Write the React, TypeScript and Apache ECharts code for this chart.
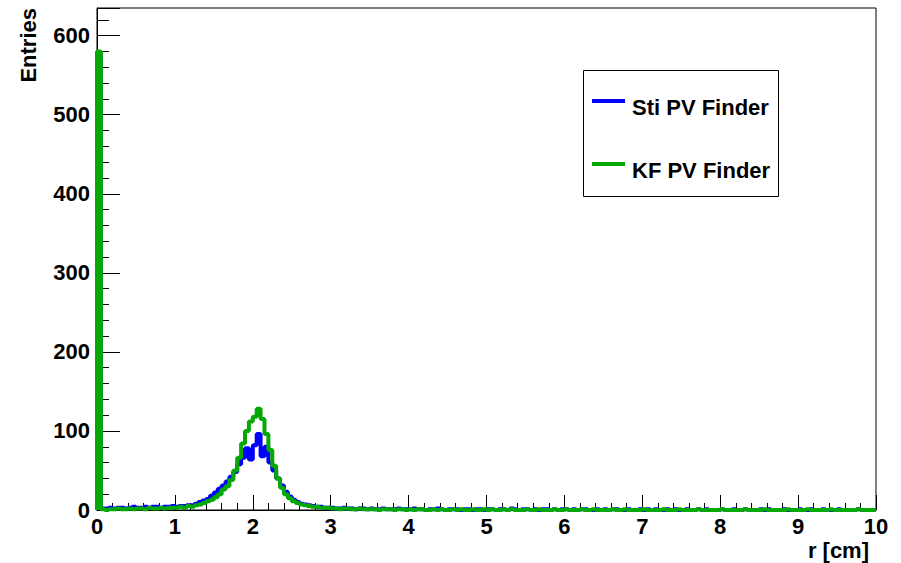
import React, { useEffect, useRef } from "react";
import * as echarts from "echarts";

// Histogram range (r in cm) and tick values
const X_MIN = 0;
const X_MAX = 10;
const Y_MAX = 635;
const X_TICK_STEP = 1;
const Y_TICK_STEP = 100;

const SERIES_NAMES = ["Sti PV Finder", "KF PV Finder"];

// Bin contents, 200 bins of 0.05 cm between 0 and 10 cm
const stiCounts = [
  575,
  2, 2, 3, 2, 3, 3, 2, 3, 4, 3, 3, 4, 3, 4, 4, 3, 4, 4, 5,
  4, 5, 5, 6, 6, 8, 10, 12,
  14, 18, 22, 27, 31, 36,
  42, 48, 58, 66, 78, 64, 82,
  96, 68, 80, 60, 50, 40, 31, 23, 17,
  13, 10, 8, 7, 6, 5, 4, 4, 3, 3,
  3, 2, 2, 3, 2, 2, 1, 2, 2, 1, 2, 1, 1, 2, 1, 1, 1, 2, 1, 1,
  1, 2, 1, 1, 0, 1, 1, 2, 1, 0, 1, 1, 1, 0, 1, 1, 0, 1, 1, 0,
  1, 1, 0, 1, 1, 0, 2, 1, 0, 1, 1, 0, 1, 0, 1, 1, 0, 1, 0, 1,
  1, 0, 1, 0, 1, 1, 0, 0, 1, 0, 1, 0, 1, 1, 0, 0, 1, 0, 0, 1,
  0, 1, 0, 1, 0, 0, 1, 0, 1, 0, 0, 1, 0, 0, 1, 0, 1, 0, 0, 0,
  1, 0, 0, 1, 0, 0, 1, 0, 0, 0, 1, 0, 1, 0, 0, 0, 1, 0, 0, 0,
  1, 0, 0, 1, 0, 0, 1, 0, 0, 0, 1, 0, 0, 0, 0, 1, 0, 0, 0, 0,
];

const kfCounts = [
  580,
  1, 0, 1, 1, 2, 1, 1, 2, 1, 2, 2, 1, 3, 2, 2, 3, 2, 3, 3,
  3, 4, 3, 5, 4, 6, 7, 9,
  11, 13, 16, 20, 26, 30,
  38, 50, 66, 84, 100, 112, 118,
  128, 115, 96, 76, 56, 40, 28, 20, 15,
  11, 9, 7, 6, 5, 4, 4, 3, 3, 3,
  2, 2, 1, 2, 2, 1, 1, 2, 1, 1, 1, 1, 0, 1, 1, 1, 0, 1, 1, 0,
  1, 0, 1, 1, 0, 0, 1, 0, 1, 0, 0, 1, 0, 1, 0, 0, 1, 0, 0, 1,
  0, 1, 0, 0, 1, 0, 1, 0, 0, 0, 1, 0, 0, 1, 0, 0, 0, 1, 0, 0,
  1, 0, 0, 0, 1, 0, 0, 1, 0, 0, 0, 0, 1, 0, 0, 1, 0, 0, 0, 0,
  1, 0, 0, 0, 0, 1, 0, 0, 0, 1, 0, 0, 0, 0, 1, 0, 0, 0, 0, 0,
  1, 0, 0, 0, 0, 0, 1, 0, 0, 0, 0, 1, 0, 0, 0, 0, 0, 1, 0, 0,
  0, 0, 1, 0, 0, 0, 0, 0, 1, 0, 0, 0, 0, 0, 0, 1, 0, 0, 0, 0,
];

const FONT = "'Liberation Sans', Arial, Helvetica, sans-serif";
const BLUE = "#0000ff";
const GREEN = "#06a806";

function toSteps(counts: number[]): number[][] {
  const w = (X_MAX - X_MIN) / counts.length;
  const pts: number[][] = [[X_MIN, 0]];
  counts.forEach((c, i) => pts.push([X_MIN + i * w, c]));
  pts.push([X_MAX, counts[counts.length - 1]]);
  return pts;
}

export default function App() {
  const ref = useRef<HTMLDivElement>(null);

  useEffect(() => {
    if (!ref.current) return;
    const chart = echarts.init(ref.current, null, { renderer: "svg" });
    const labelStyle = {
      color: "#000",
      fontSize: 22,
      fontWeight: "bold" as const,
      fontFamily: FONT,
    };
    chart.setOption({
      animation: false,
      backgroundColor: "#fff",
      grid: {
        left: 97,
        right: 25,
        top: 8,
        bottom: 53,
        containLabel: false,
        outerBoundsMode: "none",
        show: true,
        borderColor: "#000",
        borderWidth: 1,
        backgroundColor: "transparent",
      },
      xAxis: {
        type: "value",
        min: X_MIN,
        max: X_MAX,
        interval: X_TICK_STEP,
        axisLine: { show: true, onZero: false, lineStyle: { color: "#000", width: 1 } },
        axisTick: { show: true, inside: true, length: 15, lineStyle: { color: "#000", width: 1 } },
        minorTick: { show: true, splitNumber: 5, length: 7, lineStyle: { color: "#000", width: 1 } },
        splitLine: { show: false },
        minorSplitLine: { show: false },
        axisLabel: { ...labelStyle, margin: 5, showMinLabel: true, showMaxLabel: true },
      },
      yAxis: {
        type: "value",
        min: 0,
        max: Y_MAX,
        interval: Y_TICK_STEP,
        axisLine: { show: true, onZero: false, lineStyle: { color: "#000", width: 1 } },
        axisTick: { show: true, inside: true, length: 23, lineStyle: { color: "#000", width: 1 } },
        minorTick: { show: true, splitNumber: 5, length: 12, lineStyle: { color: "#000", width: 1 } },
        splitLine: { show: false },
        axisLabel: { ...labelStyle, margin: 7, showMaxLabel: false },
      },
      series: [
        {
          name: SERIES_NAMES[0],
          type: "line",
          step: "end",
          data: toSteps(stiCounts),
          symbol: "none",
          clip: true,
          z: 3,
          lineStyle: { color: BLUE, width: 4 },
          itemStyle: { color: BLUE },
        },
        {
          name: SERIES_NAMES[1],
          type: "line",
          step: "end",
          data: toSteps(kfCounts),
          symbol: "none",
          clip: true,
          z: 4,
          lineStyle: { color: GREEN, width: 4 },
          itemStyle: { color: GREEN },
        },
      ],
      graphic: [
        {
          type: "text",
          x: 28,
          y: 8,
          rotation: Math.PI / 2,
          style: {
            text: "Entries",
            align: "right",
            verticalAlign: "middle",
            fill: "#000",
            font: `bold 22px ${FONT}`,
          },
        },
        {
          type: "text",
          x: 869,
          y: 550,
          style: {
            text: "r [cm]",
            align: "right",
            verticalAlign: "middle",
            fill: "#000",
            font: `bold 22px ${FONT}`,
          },
        },
        {
          type: "group",
          z: 10,
          children: [
            {
              type: "rect",
              shape: { x: 583.5, y: 70.5, width: 195, height: 126 },
              style: { fill: "#fff", stroke: "#000", lineWidth: 1 },
            },
            {
              type: "line",
              shape: { x1: 592, y1: 101, x2: 625, y2: 101 },
              style: { stroke: BLUE, lineWidth: 4 },
            },
            {
              type: "text",
              x: 632,
              y: 107,
              style: {
                text: SERIES_NAMES[0],
                align: "left",
                verticalAlign: "middle",
                fill: "#000",
                font: `bold 22px ${FONT}`,
              },
            },
            {
              type: "line",
              shape: { x1: 592, y1: 164, x2: 625, y2: 164 },
              style: { stroke: GREEN, lineWidth: 4 },
            },
            {
              type: "text",
              x: 632,
              y: 170,
              style: {
                text: SERIES_NAMES[1],
                align: "left",
                verticalAlign: "middle",
                fill: "#000",
                font: `bold 22px ${FONT}`,
              },
            },
          ],
        },
      ],
    });
    return () => chart.dispose();
  }, []);

  return (
    <div
      ref={ref}
      style={{ position: "fixed", left: 0, top: 0, width: 901, height: 563, background: "#fff" }}
    />
  );
}
